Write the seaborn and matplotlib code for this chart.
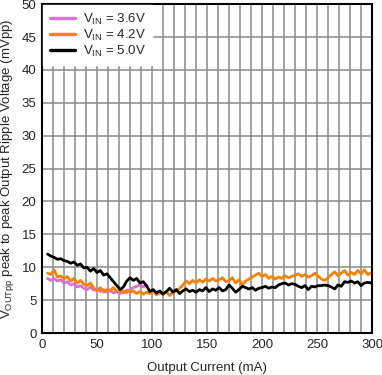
import numpy as np
import pandas as pd
import seaborn as sns
import matplotlib.pyplot as plt

# output current (mA), sampled every 3 mA
current = np.arange(5, 301, 3)

# ripple (mVpp) for each input voltage
ripple_5v0 = [
    12.0, 11.7, 11.5, 11.2, 11.3, 11.0, 10.9, 10.6, 10.8, 10.3,
    10.5, 9.9, 10.0, 9.4, 9.8, 9.2, 9.5, 8.8, 9.0, 8.4,
    7.8, 7.2, 6.6, 7.0, 7.9, 8.4, 8.0, 8.3, 7.6, 7.8,
    7.2, 6.3, 6.6, 6.1, 6.4, 5.9, 6.3, 6.8, 6.2, 6.6,
    6.0, 6.4, 6.7, 6.3, 6.5, 6.2, 6.6, 6.4, 6.9, 6.3,
    6.7, 6.5, 6.9, 6.4, 6.6, 7.3, 6.8, 6.2, 6.6, 7.1,
    6.9, 6.7, 6.9, 6.5, 6.8, 6.9, 7.1, 6.8, 7.0, 6.9,
    7.3, 7.5, 7.6, 7.3, 7.5, 7.4, 7.1, 6.9, 7.2, 6.6,
    7.1, 7.0, 7.2, 7.2, 7.3, 7.2, 7.0, 6.7, 7.3, 7.1,
    7.8, 7.7, 7.9, 7.6, 7.8, 7.2, 7.6, 7.7, 7.6,
]
ripple_4v2 = [
    9.1, 8.9, 9.6, 8.5, 8.7, 8.2, 8.6, 7.9, 8.3, 7.6,
    8.0, 7.4, 7.2, 7.6, 6.8, 6.4, 6.9, 6.2, 6.6, 6.5,
    6.9, 6.3, 6.6, 6.1, 6.5, 6.2, 6.4, 6.0, 6.3, 5.9,
    6.2, 6.0, 6.4, 5.8, 6.1, 5.9, 6.3, 5.7, 6.2, 6.4,
    6.8, 7.3, 7.9, 7.5, 8.0, 7.6, 8.1, 7.7, 8.2, 7.9,
    8.3, 7.9, 8.1, 8.4, 7.8, 8.0, 8.4, 7.6, 8.1, 7.3,
    7.9, 8.2, 8.5, 8.8, 9.1, 8.6, 8.9, 8.3, 8.6, 8.2,
    8.5, 8.3, 8.7, 8.4, 8.6, 8.8, 9.0, 8.6, 8.9, 8.5,
    8.7, 9.1, 8.6, 8.2, 8.0, 8.4, 8.9, 9.3, 8.7, 9.1,
    9.5, 8.8, 9.2, 8.9, 9.5, 9.0, 9.6, 8.9, 9.1,
]
# 3.6V only measured up to ~95 mA
ripple_3v6 = [
    8.3, 8.0, 8.3, 7.9, 8.1, 7.6, 7.8, 7.3, 7.5, 7.0,
    7.2, 6.8, 6.6, 7.0, 6.5, 6.7, 6.3, 6.6, 6.2, 6.4,
    6.1, 6.3, 6.0, 6.4, 6.1, 6.6, 6.9, 7.1, 7.3, 7.0,
    7.2,
]

labels = [r'V$_{\mathregular{IN}}$ = 3.6V', r'V$_{\mathregular{IN}}$ = 4.2V', r'V$_{\mathregular{IN}}$ = 5.0V']
colors = ['#DA70D6', '#F58200', '#000000']

sns.set_style('white')
plt.rcParams['font.family'] = ['Liberation Sans', 'DejaVu Sans']
plt.rcParams['mathtext.fontset'] = 'custom'
plt.rcParams['mathtext.rm'] = 'Liberation Sans'

fig = plt.figure(figsize=(3.82, 3.75), dpi=100)
ax = fig.add_axes([0.110, 0.112, 0.864, 0.877])

series = [current[:len(ripple_3v6)], current, current]
values = [ripple_3v6, ripple_4v2, ripple_5v0]
for x, y, lab, c in zip(series, values, labels, colors):
    sns.lineplot(x=x, y=y, ax=ax, color=c, linewidth=2.0, label=lab)

ax.set_xlim(0, 300)
ax.set_ylim(0, 50)
ax.set_xticks(np.arange(0, 301, 50))
ax.set_yticks(np.arange(0, 51, 5))
ax.set_xticks(np.arange(0, 301, 10), minor=True)
ax.grid(True, which='both', color='#8a8a8a', linewidth=1.1)
ax.set_axisbelow(True)
ax.tick_params(axis='both', which='both', length=0, labelsize=9.5, pad=4)

for s in ax.spines.values():
    s.set_color('black')
    s.set_linewidth(1.5)

ax.set_xlabel('Output Current (mA)', fontsize=9.5, labelpad=8)
ax.set_ylabel(r'V$_{\mathregular{OUTpp}}$ peak to peak Output Ripple Voltage (mVpp)', fontsize=9.5, labelpad=4)

leg = ax.legend(loc='upper left', fontsize=9.5, frameon=True, facecolor='white',
                edgecolor='white', framealpha=1, fancybox=False,
                handlelength=1.9, handletextpad=0.6, borderpad=0.5,
                borderaxespad=0.1, labelspacing=0.05)
for line in leg.get_lines():
    line.set_linewidth(2.4)

fig.savefig('out.png', dpi=100)
